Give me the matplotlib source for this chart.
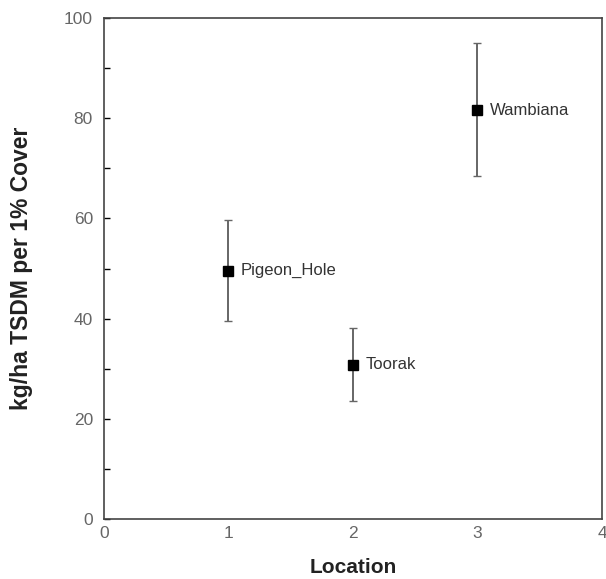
import matplotlib
matplotlib.use('Agg')
import matplotlib.pyplot as plt
from matplotlib.ticker import MultipleLocator

plt.rcParams['font.family'] = ['Liberation Sans', 'DejaVu Sans']

sites = ['Pigeon_Hole', 'Toorak', 'Wambiana']
location = [1, 2, 3]
tsdm = [49.6, 30.8, 81.6]
err_low = [39.5, 23.6, 68.4]
err_high = [59.7, 38.1, 95.0]

fig = plt.figure(figsize=(6.06, 5.79), dpi=100)
ax = fig.add_axes([0.1716, 0.1036, 0.8218, 0.8653])

yerr = [[v - lo for v, lo in zip(tsdm, err_low)],
        [hi - v for v, hi in zip(tsdm, err_high)]]
ax.errorbar(location, tsdm, yerr=yerr, fmt='s', color='black', ms=7.5,
            ecolor='#666666', elinewidth=1.4, capsize=3, capthick=1.0)

# label each point to its right
for x, y, name in zip(location, tsdm, sites):
    ax.annotate(name, (x, y), xytext=(9, 0), textcoords='offset points',
                va='center', ha='left', fontsize=12, color='#333333')

ax.set_xlim(0, 4)
ax.set_ylim(0, 100)
ax.xaxis.set_major_locator(MultipleLocator(1))
ax.yaxis.set_major_locator(MultipleLocator(20))
ax.yaxis.set_minor_locator(MultipleLocator(10))
ax.tick_params(axis='y', which='both', direction='in', length=4, width=1,
               labelsize=12.5, labelcolor='#666666', pad=8)
ax.tick_params(axis='x', which='both', length=0, labelsize=12.5,
               labelcolor='#666666', pad=5)
for s in ax.spines.values():
    s.set_color('#444444')
    s.set_linewidth(1.2)

ax.set_xlabel('Location', fontsize=15, fontweight='bold', color='#222222', labelpad=12)
ax.set_ylabel('kg/ha TSDM per 1% Cover', fontsize=16.5, fontweight='bold', color='#222222', labelpad=22)

fig.savefig('out.png', dpi=100)
